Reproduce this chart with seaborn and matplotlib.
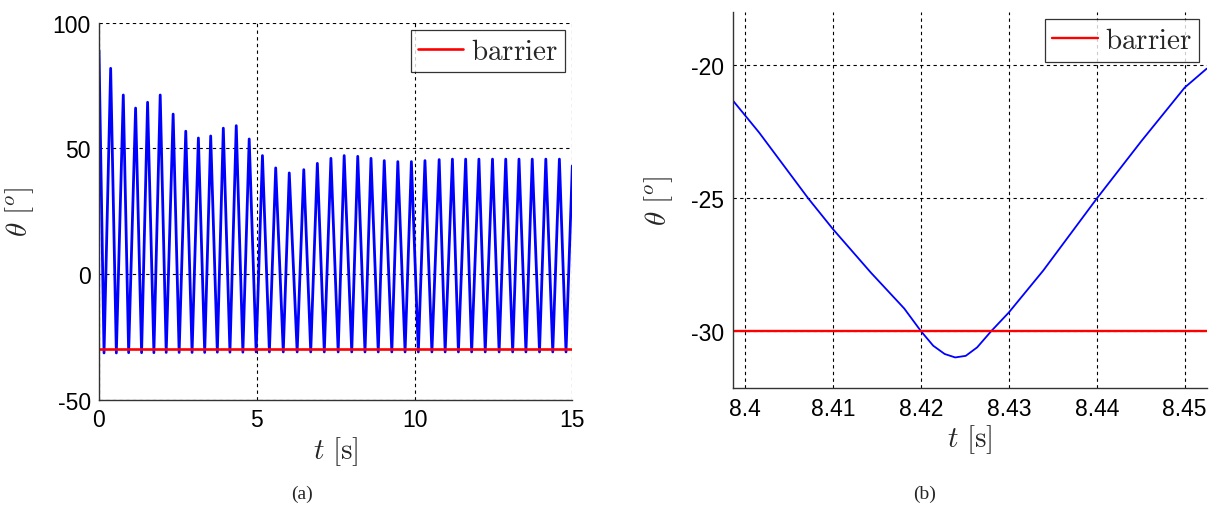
import numpy as np
import matplotlib
matplotlib.use("Agg")
import matplotlib.pyplot as plt
from matplotlib.ticker import FuncFormatter
import seaborn as sns

# --- data ---
# (a) full run: start, alternating troughs/peaks, end
start_t, start_v = 0.0, 89.0
end_t, end_v = 15.0, 43.0
trough_t = [0.16, 0.55, 0.94, 1.35, 1.74, 2.13, 2.54, 2.95, 3.35, 3.75, 4.15, 4.56,
            4.98, 5.40, 5.84, 6.28, 6.71, 7.14, 7.58, 8.01, 8.43, 8.85, 9.28, 9.70,
            10.12, 10.55, 10.97, 11.39, 11.81, 12.24, 12.68, 13.11, 13.53, 13.96, 14.38, 14.80]
trough_v = [-31.4, -31.4, -31.3, -31.3, -31.3, -31.2, -31.2, -31.2, -31.2, -31.1, -31.1, -31.1,
            -31.0, -31.0, -31.0, -31.0, -31.0, -31.0, -31.0, -31.0, -31.0, -31.0, -31.0, -31.0,
            -31.0, -31.0, -31.0, -31.0, -31.0, -31.0, -31.0, -31.0, -31.0, -31.0, -31.0, -31.0]
peak_t = [0.37, 0.77, 1.16, 1.54, 1.94, 2.35, 2.75, 3.15, 3.54, 3.94, 4.35, 4.76,
          5.18, 5.60, 6.03, 6.49, 6.92, 7.35, 7.77, 8.20, 8.62, 9.04, 9.47, 9.90,
          10.33, 10.78, 11.20, 11.62, 12.04, 12.47, 12.89, 13.31, 13.73, 14.16, 14.59]
peak_v = [81.8, 71.2, 66.0, 68.3, 71.2, 63.6, 56.8, 54.1, 54.9, 58.0, 59.0, 53.7,
          47.1, 42.2, 40.2, 41.5, 44.0, 46.0, 47.1, 46.8, 46.0, 45.1, 44.7, 44.7,
          45.1, 45.5, 45.7, 45.7, 45.7, 45.7, 45.7, 45.7, 45.7, 45.7, 45.7]

# (b) zoom around one impact
zoom_t = [8.3986, 8.4016, 8.4072, 8.4100, 8.4143, 8.4181, 8.4200, 8.4214, 8.4227, 8.4239,
          8.4251, 8.4264, 8.4280, 8.4300, 8.4339, 8.4400, 8.4451, 8.4500, 8.4525]
zoom_v = [-21.33, -22.54, -25.02, -26.17, -27.80, -29.15, -30.00, -30.55, -30.86, -30.99,
          -30.93, -30.61, -30.00, -29.30, -27.73, -25.02, -22.85, -20.85, -20.14]

barrier = -30.0

a_xticks = [0, 5, 10, 15]
a_yticks = [-50, 0, 50, 100]
b_xticks = [8.40, 8.41, 8.42, 8.43, 8.44, 8.45]
b_yticks = [-30, -25, -20]

# build the (a) sequence in time order
full_t = [start_t]
full_v = [start_v]
for i in range(len(trough_t)):
    full_t.append(trough_t[i]); full_v.append(trough_v[i])
    if i < len(peak_t):
        full_t.append(peak_t[i]); full_v.append(peak_v[i])
full_t.append(end_t); full_v.append(end_v)

sns.set_theme(style="white")
plt.rcParams['font.family'] = ['Liberation Sans', 'DejaVu Sans']
plt.rcParams['mathtext.fontset'] = 'cm'
plt.rcParams['axes.unicode_minus'] = False

fig = plt.figure(figsize=(12.19, 5.06), dpi=100)
ax_a = fig.add_axes([0.0812, 0.2081, 0.3883, 0.7453])
ax_b = fig.add_axes([0.6011, 0.2306, 0.3888, 0.7443])

grid_kw = dict(color='black', linestyle=(0, (3, 3)), linewidth=0.8)

def style_axes(ax):
    ax.set_axisbelow(True)
    ax.grid(True, **grid_kw)
    for s in ['top', 'right']:
        ax.spines[s].set_visible(False)
    for s in ['left', 'bottom']:
        ax.spines[s].set_color('#333333')
        ax.spines[s].set_linewidth(1.0)
    ax.tick_params(axis='both', which='both', direction='in', length=0,
                   labelsize=16.5, colors='black', pad=6)
    ax.set_xlabel(r'$t\ [\mathrm{s}]$', fontsize=21, labelpad=2)
    ax.set_ylabel(r'$\theta\ [^o]$', fontsize=21, labelpad=12)
    leg = ax.legend(loc='upper right', fontsize=21, frameon=True, fancybox=False,
                    handlelength=1.55, handletextpad=0.25, borderpad=0.25,
                    borderaxespad=0.25)
    leg.get_frame().set_edgecolor('black')
    leg.get_frame().set_linewidth(0.9)
    for txt in leg.get_texts():
        txt.set_text(r'$\mathrm{barrier}$')

# (a)
sns.lineplot(x=full_t, y=full_v, ax=ax_a, color='#0000ff', linewidth=2.0,
             estimator=None, sort=False)
sns.lineplot(x=[start_t, end_t], y=[barrier, barrier], ax=ax_a, color='#ff0000',
             linewidth=1.9, estimator=None, label='barrier')
ax_a.set_xlim(start_t, end_t)
ax_a.set_ylim(-50, 100)
ax_a.set_xticks(a_xticks)
ax_a.set_yticks(a_yticks)
style_axes(ax_a)

# (b)
sns.lineplot(x=zoom_t, y=zoom_v, ax=ax_b, color='#0000ff', linewidth=1.3,
             estimator=None, sort=False)
sns.lineplot(x=[zoom_t[0], zoom_t[-1]], y=[barrier, barrier], ax=ax_b, color='#ff0000',
             linewidth=1.7, estimator=None, label='barrier')
ax_b.set_xlim(zoom_t[0], zoom_t[-1])
ax_b.set_ylim(-32.15, -18.0)
ax_b.set_xticks(b_xticks)
ax_b.set_yticks(b_yticks)
ax_b.xaxis.set_major_formatter(FuncFormatter(lambda v, p: f'{v:g}'))
style_axes(ax_b)

fig.text(302 / 1219, 1 - 494 / 506, '(a)', ha='center', va='center',
         fontsize=14, family=['Liberation Serif', 'DejaVu Serif'])
fig.text(925 / 1219, 1 - 494 / 506, '(b)', ha='center', va='center',
         fontsize=14, family=['Liberation Serif', 'DejaVu Serif'])

fig.savefig('out.png', dpi=100)
